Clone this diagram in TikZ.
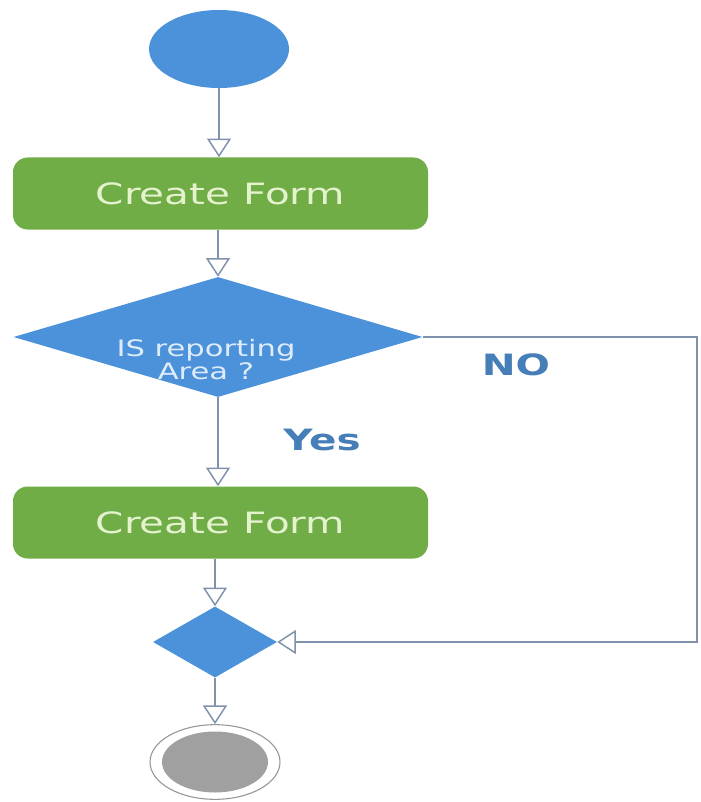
\documentclass[tikz,border=0pt]{standalone}
\usepackage{fontspec}
\usepackage{graphicx}
\setmainfont{DejaVu Sans}
\usetikzlibrary{shapes.geometric,arrows.meta}

\definecolor{startblue}{RGB}{76,146,218}
\definecolor{actgreen}{RGB}{112,173,71}
\definecolor{acttext}{RGB}{228,242,206}
\definecolor{decitext}{RGB}{222,236,250}
\definecolor{flowline}{RGB}{128,146,172}
\definecolor{guardblue}{RGB}{70,126,184}
\definecolor{endgray}{RGB}{160,160,160}
\definecolor{ringgray}{RGB}{150,150,150}

\tikzset{
  startnode/.style={ellipse, fill=startblue, inner sep=0pt,
    minimum width=105pt, minimum height=58.5pt},
  action/.style={rectangle, rounded corners=11pt, fill=actgreen, inner sep=0pt,
    minimum width=311.25pt, minimum height=54pt, text=acttext,
    font=\fontsize{22}{26}\selectfont},
  decision/.style={diamond, fill=startblue, inner sep=0pt, aspect=1},
  endring/.style={ellipse, draw=ringgray, line width=0.8pt, fill=white,
    inner sep=0pt, minimum width=97.5pt, minimum height=56pt},
  endcore/.style={ellipse, fill=endgray, inner sep=0pt,
    minimum width=79.5pt, minimum height=45.75pt},
  flow/.style={draw=flowline, line width=1.1pt,
    -{Triangle[open, length=14pt, width=18pt, fill=white]}},
  guard/.style={text=guardblue, font=\fontsize{22}{26}\selectfont\bfseries}
}

\newcommand{\wide}[1]{\scalebox{1.38}[1]{#1}}

\begin{document}
\begin{tikzpicture}[x=0.75pt, y=-0.75pt]
  \fill[white] (0,0) rectangle (700,802);
  \useasboundingbox (0,0) rectangle (700,802);

  % initial state
  \node[startnode] (start) at (219,49) {};

  % first activity
  \node[action] (form1) at (220.5,193.5) {\wide{Create Form}};

  % decision on the reporting area
  \node[decision, minimum width=306.75pt, minimum height=90pt] (area) at (218,337) {};
  \node[text=decitext, inner sep=0pt] (areatext) at (206,362)
    {\scalebox{1.35}[1]{\fontsize{17}{15}\selectfont
      \begin{tabular}{@{}c@{}}IS reporting\\Area ?\end{tabular}}};

  % second activity
  \node[action] (form2) at (220.5,522.5) {\wide{Create Form}};

  % merge
  \node[decision, minimum width=93pt, minimum height=53.25pt] (merge) at (215,642) {};

  % final state
  \node[endring] (finish) at (215,762) {};
  \node[endcore] (finishcore) at (215,762) {};

  % guards
  \node[guard] (yes) at (322,440) {\wide{Yes}};
  \node[guard] (no) at (516,365) {\wide{NO}};

  % corners of the NO branch
  \coordinate (nocornerA) at (697,337);
  \coordinate (nocornerB) at (697,642);

  % control flow
  \draw[flow] (start.south) -- (start.south |- form1.north);
  \draw[flow] (form1.south -| area.north) -- (area.north);
  \draw[flow] (area.south) -- (area.south |- form2.north);
  \draw[flow] (form2.south -| merge.north) -- (merge.north);
  \draw[flow] (merge.south) -- (finish.north);
  \draw[flow] (area.east) -- (nocornerA) -- (nocornerB) -- (merge.east);
\end{tikzpicture}
\end{document}
